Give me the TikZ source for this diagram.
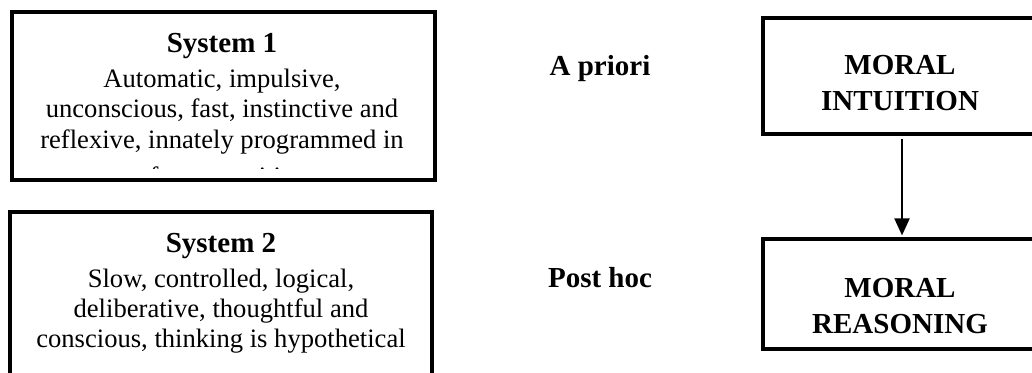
\documentclass[tikz,border=0pt]{standalone}
\usepackage{fontspec}
\setmainfont{Liberation Serif}
\usetikzlibrary{arrows.meta}
\tikzset{
  frame/.style={draw=black, line width=3.2pt, fill=white, inner sep=0pt},
  bodyline/.style={inner sep=0pt, anchor=base, font=\fontsize{26.6}{30.5}\selectfont},
  headline/.style={inner sep=0pt, anchor=base, font=\fontsize{29}{35}\selectfont\bfseries},
  flow/.style={-{Triangle[length=17pt,width=15pt]}, line width=2.2pt, shorten <=3.5pt, shorten >=2pt}
}
\begin{document}
\begin{tikzpicture}[x=1pt,y=-1pt]
\useasboundingbox (0,0) rectangle (1032,372);
\clip (0,0) rectangle (1032,372);
\fill[white] (0,0) rectangle (1032,372);
% left boxes
\node[frame, minimum width=423pt, minimum height=168pt] (s1) at (223.5,96) {};
\node[frame, minimum width=422pt, minimum height=188pt] (s2) at (221,306) {};
\node[headline] (s1h) at (222,52) {System 1};
\node[bodyline] (s1a) at (222,87) {Automatic, impulsive,};
\node[bodyline] (s1b) at (222,117.5) {unconscious, fast, instinctive and};
\node[bodyline] (s1c) at (222,148) {reflexive, innately programmed in};
\begin{scope}
  \clip (14,14) rectangle (433,168);
  \node[bodyline] (s1d) at (222,185) {of our cognition};
\end{scope}
\node[headline] (s2h) at (221,252) {System 2};
\node[bodyline] (s2a) at (221,287) {Slow, controlled, logical,};
\node[bodyline] (s2b) at (221,317) {deliberative, thoughtful and};
\node[bodyline] (s2c) at (221,347) {conscious, thinking is hypothetical};
% middle labels
\node[headline] (ap) at (600,75) {A priori};
\node[headline] (ph) at (600,287) {Post hoc};
% right boxes
\node[frame, minimum width=274pt, minimum height=116pt] (mi) at (900,76) {};
\node[frame, minimum width=274pt, minimum height=110pt] (mr) at (900,294) {};
\node[headline] (mi1) at (900,74) {MORAL};
\node[headline] (mi2) at (900,110) {INTUITION};
\node[headline] (mr1) at (900,297) {MORAL};
\node[headline] (mr2) at (900,333) {REASONING};
\draw[flow] ([xshift=2pt]mi.south) -- ([xshift=2pt]mr.north);
\end{tikzpicture}
\end{document}
